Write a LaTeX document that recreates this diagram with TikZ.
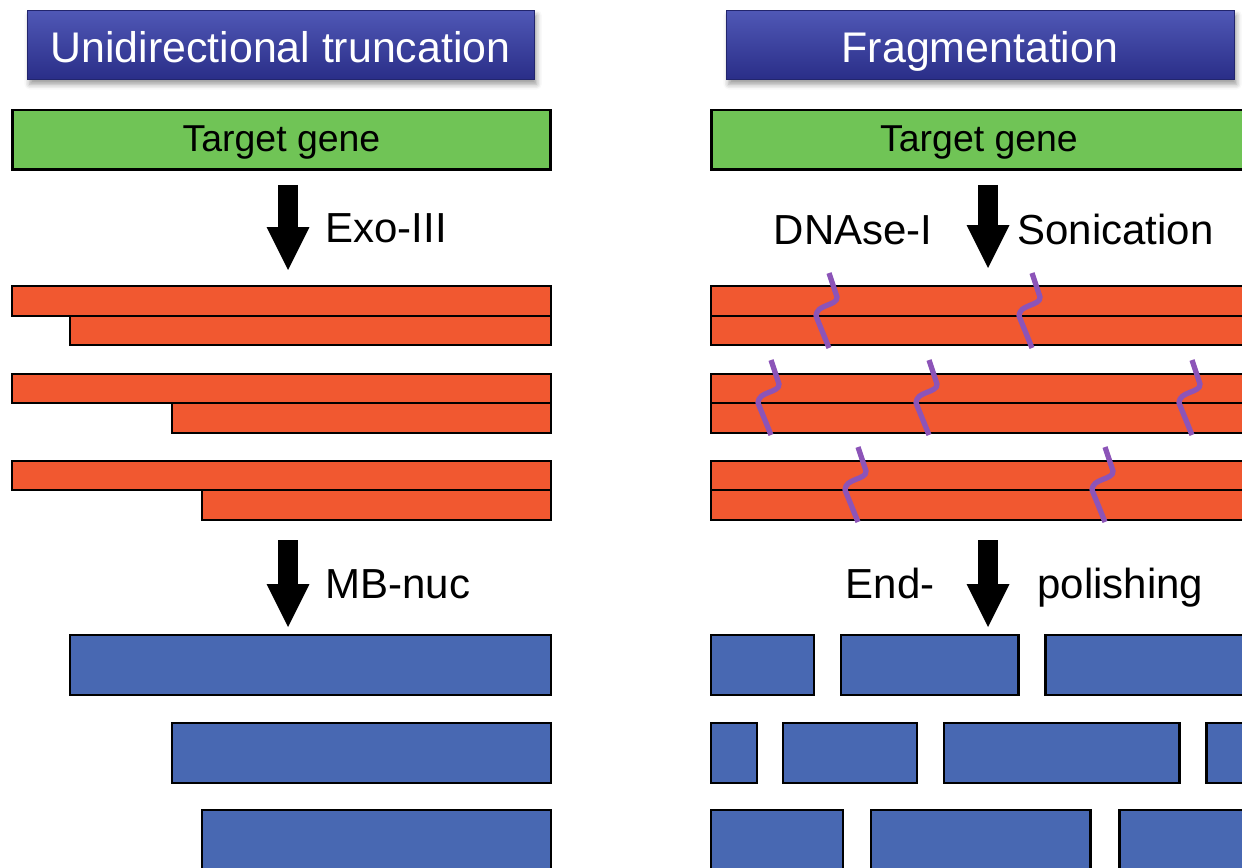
\documentclass[tikz,border=0pt]{standalone}
\usepackage{fontspec}
\setmainfont{Liberation Sans}
\setsansfont{Liberation Sans}
\usepackage{tikz}
\usetikzlibrary{
  arrows.meta,
  positioning,
  fit,
  shadows,
  shadows.blur
}
\definecolor{hdrtop}{RGB}{80, 88, 182}
\definecolor{hdrbot}{RGB}{42, 46, 136}
\definecolor{genegreen}{RGB}{112, 196, 86}
\definecolor{dnared}{RGB}{241, 88, 48}
\definecolor{fragblue}{RGB}{72, 104, 178}
\definecolor{cutpurple}{RGB}{140, 84, 184}

\begin{document}
\begin{tikzpicture}[
  x=0.02cm, y=-0.02cm,
  every node/.style={font=\sffamily}
]
  % Styles
  \tikzstyle{header} = [rectangle, inner sep=0pt, minimum height=1.38cm, draw=hdrbot!80!black, line width=0.5pt, top color=hdrtop, bottom color=hdrbot, text=white, font=\sffamily\fontsize{24.4}{29}\selectfont, text height=0.82cm, text depth=0.1cm, blur shadow={shadow xshift=1.5pt, shadow yshift=-3pt, shadow blur radius=3pt}]
  \tikzstyle{gene} = [rectangle, inner sep=0pt, minimum height=1.2cm, draw=black, line width=1.7pt, fill=genegreen, font=\sffamily\fontsize{21.3}{25}\selectfont, text height=0.58cm, text depth=0.1cm]
  \tikzstyle{strand} = [rectangle, inner sep=0pt, draw=black, line width=1.7pt, fill=dnared]
  \tikzstyle{frag} = [rectangle, inner sep=0pt, draw=black, line width=1.7pt, fill=fragblue]
  \tikzstyle{bigarrow} = [line width=0.4cm, -{Triangle[width=0.86cm, length=0.86cm, line width=0pt]}]
  \tikzstyle{lbl} = [inner sep=0pt, font=\sffamily\fontsize{23.9}{28}\selectfont]
  \tikzstyle{dnacut} = [cutpurple, line width=3pt, line join=round]

  \useasboundingbox (0,0) rectangle (1242,868);
  \clip (0,0) rectangle (1242,868);

  % Headers
  \node[header, minimum width=10.14cm] (hdr_trunc) at (280.5,44.5) {Unidirectional truncation};
  \node[header, minimum width=10.16cm] (hdr_frag) at (980,44.5) {Fragmentation};

  % Target genes
  \node[gene, minimum width=10.78cm] (gene_l) at (281.5,140) {Target gene};
  \node[gene, minimum width=10.72cm] (gene_r) at (979,140) {Target gene};

  % First step
  \coordinate (exo_top) at (288,185);
  \coordinate (exo_tip) at (288,270);
  \coordinate (cut_top) at (988,185);
  \coordinate (cut_tip) at (988,268);
  \draw[bigarrow] (exo_top) -- (exo_tip);
  \draw[bigarrow] (cut_top) -- (cut_tip);
  \node[lbl, anchor=base west] (exo_lbl) at (325,243) {Exo-III};
  \node[lbl, anchor=base east] (dnase_lbl) at (933,245) {DNAse-I};
  \node[lbl, anchor=base west] (sonic_lbl) at (1017,245) {Sonication};

  % Truncated duplexes
  \node[strand, fit={(12,286) (551,316)}] (trunc1_top) {};
  \node[strand, fit={(70,316) (551,345)}] (trunc1_bot) {};
  \node[strand, fit={(12,374) (551,403)}] (trunc2_top) {};
  \node[strand, fit={(172,403) (551,433)}] (trunc2_bot) {};
  \node[strand, fit={(12,461) (551,490)}] (trunc3_top) {};
  \node[strand, fit={(202,490) (551,520)}] (trunc3_bot) {};

  % Fragmented duplexes
  \node[strand, fit={(711,286) (1260,316)}] (frag1_top) {};
  \node[strand, fit={(711,316) (1260,345)}] (frag1_bot) {};
  \node[strand, fit={(711,374) (1260,403)}] (frag2_top) {};
  \node[strand, fit={(711,403) (1260,433)}] (frag2_bot) {};
  \node[strand, fit={(711,461) (1260,490)}] (frag3_top) {};
  \node[strand, fit={(711,490) (1260,520)}] (frag3_bot) {};

  % Break marks
  \draw[dnacut, shift={(829,316)}] (0,-43) -- (8,-19) .. controls (9,-10) and (-13,-12) .. (-13,0) -- (0,32);
  \draw[dnacut, shift={(1032,316)}] (0,-43) -- (8,-19) .. controls (9,-10) and (-13,-12) .. (-13,0) -- (0,32);
  \draw[dnacut, shift={(771,403)}] (0,-43) -- (8,-19) .. controls (9,-10) and (-13,-12) .. (-13,0) -- (0,32);
  \draw[dnacut, shift={(929,403)}] (0,-43) -- (8,-19) .. controls (9,-10) and (-13,-12) .. (-13,0) -- (0,32);
  \draw[dnacut, shift={(1192,403)}] (0,-43) -- (8,-19) .. controls (9,-10) and (-13,-12) .. (-13,0) -- (0,32);
  \draw[dnacut, shift={(858,490)}] (0,-43) -- (8,-19) .. controls (9,-10) and (-13,-12) .. (-13,0) -- (0,32);
  \draw[dnacut, shift={(1105,490)}] (0,-43) -- (8,-19) .. controls (9,-10) and (-13,-12) .. (-13,0) -- (0,32);

  % Second step
  \coordinate (mb_top) at (288,540);
  \coordinate (mb_tip) at (288,627);
  \coordinate (end_top) at (988,540);
  \coordinate (end_tip) at (988,627);
  \draw[bigarrow] (mb_top) -- (mb_tip);
  \draw[bigarrow] (end_top) -- (end_tip);
  \node[lbl, anchor=base west] (mb_lbl) at (325,598) {MB-nuc};
  \node[lbl, anchor=base east] (end_lbl) at (935,598) {End-};
  \node[lbl, anchor=base west] (polish_lbl) at (1037,598) {polishing};

  % Truncated products
  \node[frag, fit={(70,635) (551,695)}] (trunc_out1) {};
  \node[frag, fit={(172,723) (551,783)}] (trunc_out2) {};
  \node[frag, fit={(202,810) (551,880)}] (trunc_out3) {};

  % Fragment products
  \node[frag, fit={(711,635) (814,695)}] (frag_out1a) {};
  \node[frag, fit={(841,635) (1018,695)}] (frag_out1b) {};
  \node[frag, fit={(1045,635) (1260,695)}] (frag_out1c) {};
  \node[frag, fit={(711,723) (757,783)}] (frag_out2a) {};
  \node[frag, fit={(783,723) (917,783)}] (frag_out2b) {};
  \node[frag, fit={(944,723) (1179,783)}] (frag_out2c) {};
  \node[frag, fit={(1206,723) (1260,783)}] (frag_out2d) {};
  \node[frag, fit={(711,810) (843,880)}] (frag_out3a) {};
  \node[frag, fit={(871,810) (1090,880)}] (frag_out3b) {};
  \node[frag, fit={(1119,810) (1260,880)}] (frag_out3c) {};
\end{tikzpicture}
\end{document}
